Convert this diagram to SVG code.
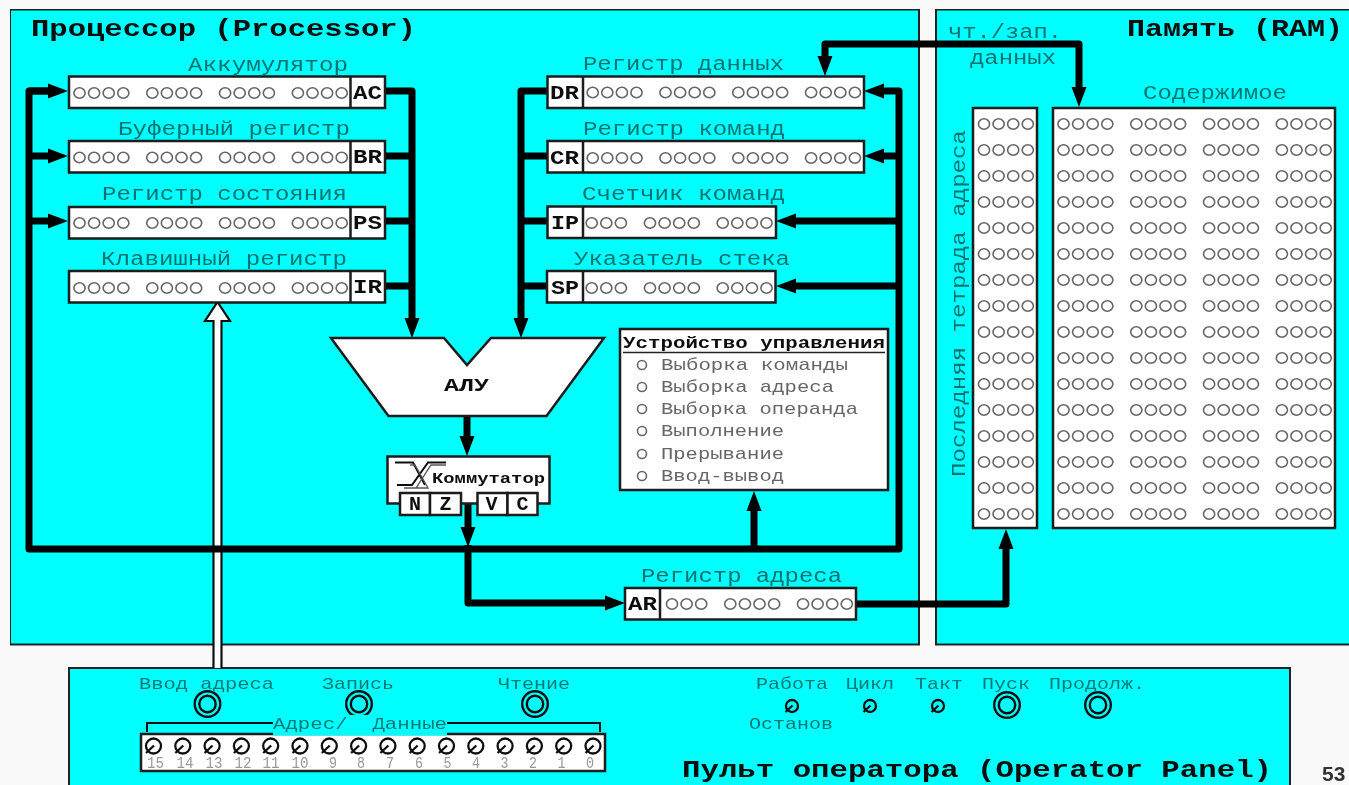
<svg xmlns="http://www.w3.org/2000/svg" width="1349" height="785" viewBox="0 0 1349 785">
<style>
text{font-family:"Liberation Mono","Courier New",monospace;white-space:pre}
.frame{fill:#00ffff;stroke:#222;stroke-width:2}
.box{fill:#fff;stroke:#1a1a1a;stroke-width:2.5}
.div{stroke:#1a1a1a;stroke-width:2.5;fill:none}
.dot{fill:none;stroke:#666;stroke-width:1.6}
.title{font-size:24px;font-weight:bold;fill:#0a0a0a}
.lab{font-size:20px;fill:#007272}
.pl{font-size:17px;fill:#007878}
.key{font-size:20px;font-weight:bold;fill:#111}
.flag{font-size:20px;font-weight:bold;fill:#111;text-anchor:middle}
.item{font-size:17px;fill:#666}
.num{font-size:17px;fill:#999;text-anchor:middle}
.wire{fill:none;stroke:#000;stroke-width:7;stroke-linejoin:round}
.btn{fill:none;stroke:#111;stroke-width:2.4}
.tog{fill:none;stroke:#111;stroke-width:2.3}
</style>
<defs>
<filter id="soft" x="0" y="0" width="100%" height="100%"><feGaussianBlur stdDeviation="0.45"/></filter>
<marker id="head" markerUnits="userSpaceOnUse" markerWidth="22" markerHeight="16" refX="0" refY="8" orient="auto"><path d="M0,0.500 L20,8 L0,15.500 Z" fill="#000"/></marker>
<g id="c3"><ellipse class="dot" cx="0" cy="0" rx="5.600" ry="5.200"/><ellipse class="dot" cx="14.600" cy="0" rx="5.600" ry="5.200"/><ellipse class="dot" cx="29.200" cy="0" rx="5.600" ry="5.200"/></g>
<g id="c4"><use href="#c3"/><ellipse class="dot" cx="43.800" cy="0" rx="5.600" ry="5.200"/></g>
<g id="r4"><use href="#c4"/><use href="#c4" x="72.800"/><use href="#c4" x="145.600"/><use href="#c4" x="218.400"/></g>
<g id="r3"><use href="#c3"/><use href="#c4" x="58.300"/><use href="#c4" x="131"/></g>
<g id="btn"><circle class="btn" r="12.800"/><circle class="btn" r="8.200"/></g>
<g id="tog"><circle class="tog" r="7.500"/><path class="tog" d="M0.500,-0.500 L-7.500,7"/></g>
<g id="togs"><circle class="tog" r="6"/><path class="tog" d="M0.500,-0.500 L-6.500,6"/></g>
</defs>
<rect width="1349" height="785" fill="#f9f9f9"/>
<g filter="url(#soft)">
<g id="frames">
<rect class="frame" x="10" y="9.500" width="909" height="635"/>
<rect class="frame" x="936" y="9.500" width="420" height="635"/>
<rect class="frame" x="69" y="668" width="1221" height="130"/>
</g>
<text class="title" x="31" y="36" textLength="385" lengthAdjust="spacingAndGlyphs">Процессор (Processor)</text>
<text class="title" x="1127" y="36" textLength="216" lengthAdjust="spacingAndGlyphs">Память (RAM)</text>
<text class="title" x="682" y="777" textLength="590" lengthAdjust="spacingAndGlyphs">Пульт оператора (Operator Panel)</text>
<text x="1322" y="781" style="font-family:'Liberation Sans',Arial,sans-serif;font-size:21px;font-weight:bold;fill:#333">53</text>

<g id="connectors">
<path d="M213.500,668 V321 H205 L217.500,302 L230,321 H221.500 V668" fill="#fff" stroke="#111" stroke-width="2.200"/>
<path class="wire" d="M385,91 H412 V318" marker-end="url(#head)"/>
<path class="wire" d="M385,156 H412 M385,221 H412 M385,286 H412"/>
<path class="wire" d="M547,91 H521 V318" marker-end="url(#head)"/>
<path class="wire" d="M547,156 H521 M547,221 H521 M547,286 H521"/>
<path class="wire" d="M29,91 H48" marker-end="url(#head)"/>
<path class="wire" d="M29,156 H48" marker-end="url(#head)"/>
<path class="wire" d="M29,221 H48" marker-end="url(#head)"/>
<path class="wire" d="M48,91 H29 V549 H899 V91 H884" marker-end="url(#head)"/>
<path class="wire" d="M899,156 H884" marker-end="url(#head)"/>
<path class="wire" d="M899,221 H796" marker-end="url(#head)"/>
<path class="wire" d="M899,286 H796" marker-end="url(#head)"/>
<path class="wire" d="M467,416 V436" marker-end="url(#head)"/>
<path class="wire" d="M468,504 V527" marker-end="url(#head)"/>
<path class="wire" d="M468,545 V603 H605" marker-end="url(#head)"/>
<path class="wire" d="M754,549 V511" marker-end="url(#head)"/>
<path class="wire" d="M856,604 H1006 V549" marker-end="url(#head)"/>
<path class="wire" d="M950,44 H825 V56" marker-end="url(#head)"/>
<path class="wire" d="M950,44 H1079 V87" marker-end="url(#head)"/>
</g>

<g id="reg-ac"><rect class="box" x="69" y="76.500" width="316" height="31.500"/><path class="div" d="M350.500,76.500 V108"/><use href="#r4" x="79.500" y="93"/><text class="lab" x="188" y="71" textLength="160" lengthAdjust="spacingAndGlyphs">Аккумулятор</text><text class="key" x="353" y="99" textLength="29" lengthAdjust="spacingAndGlyphs">AC</text></g>
<g id="reg-br"><rect class="box" x="69" y="141" width="316" height="31.500"/><path class="div" d="M350.500,141 V172.500"/><use href="#r4" x="79.500" y="157.500"/><text class="lab" x="118" y="135" textLength="232" lengthAdjust="spacingAndGlyphs">Буферный регистр</text><text class="key" x="353" y="163" textLength="29" lengthAdjust="spacingAndGlyphs">BR</text></g>
<g id="reg-ps"><rect class="box" x="69" y="207" width="316" height="31.500"/><path class="div" d="M350.500,207 V238.500"/><use href="#r4" x="79.500" y="223"/><text class="lab" x="102" y="200" textLength="245" lengthAdjust="spacingAndGlyphs">Регистр состояния</text><text class="key" x="353" y="229" textLength="29" lengthAdjust="spacingAndGlyphs">PS</text></g>
<g id="reg-ir"><rect class="box" x="69" y="271" width="316" height="31.500"/><path class="div" d="M350.500,271 V302.500"/><use href="#r4" x="79.500" y="288"/><text class="lab" x="101" y="265" textLength="246" lengthAdjust="spacingAndGlyphs">Клавишный регистр</text><text class="key" x="353" y="293" textLength="29" lengthAdjust="spacingAndGlyphs">IR</text></g>

<g id="reg-dr"><rect class="box" x="547.500" y="76.500" width="316.500" height="31.500"/><path class="div" d="M583,76.500 V108"/><use href="#r4" x="592.700" y="92.500"/><text class="lab" x="583" y="70" textLength="201" lengthAdjust="spacingAndGlyphs">Регистр данных</text><text class="key" x="550" y="99" textLength="29" lengthAdjust="spacingAndGlyphs">DR</text></g>
<g id="reg-cr"><rect class="box" x="547.500" y="141" width="316.500" height="31.500"/><path class="div" d="M583,141 V172.500"/><use href="#r4" x="592.700" y="158"/><text class="lab" x="583" y="135" textLength="202" lengthAdjust="spacingAndGlyphs">Регистр команд</text><text class="key" x="550" y="164" textLength="29" lengthAdjust="spacingAndGlyphs">CR</text></g>
<g id="reg-ip"><rect class="box" x="547.500" y="206.500" width="228.500" height="31.500"/><path class="div" d="M583,206.500 V238"/><use href="#r3" x="591.700" y="223"/><text class="lab" x="582" y="200" textLength="203" lengthAdjust="spacingAndGlyphs">Счетчик команд</text><text class="key" x="551" y="229" textLength="28" lengthAdjust="spacingAndGlyphs">IP</text></g>
<g id="reg-sp"><rect class="box" x="547" y="271" width="228.500" height="31.500"/><path class="div" d="M583,271 V302.500"/><use href="#r3" x="591.700" y="288"/><text class="lab" x="574" y="265" textLength="216" lengthAdjust="spacingAndGlyphs">Указатель стека</text><text class="key" x="551" y="294" textLength="28" lengthAdjust="spacingAndGlyphs">SP</text></g>
<g id="reg-ar"><rect class="box" x="625" y="588" width="231" height="31.500"/><path class="div" d="M660,588 V619.500"/><use href="#r3" x="672" y="604"/><text class="lab" x="641" y="582" textLength="201" lengthAdjust="spacingAndGlyphs">Регистр адреса</text><text class="key" x="628" y="610" textLength="29" lengthAdjust="spacingAndGlyphs">AR</text></g>

<g id="alu"><path class="box" d="M331,338 H444 L467,365 L491,338 H604 L546.500,416 H388.500 Z"/><text x="444" y="391" textLength="45" lengthAdjust="spacingAndGlyphs" style="font-size:18px;font-weight:bold;fill:#111">АЛУ</text></g>

<g id="switch"><rect class="box" x="387.500" y="456.500" width="162" height="47"/>
<path d="M395,462.500 H413 L425,485 M397,485 H412 L428,462.500 H446" fill="none" stroke="#111" stroke-width="2"/>
<path d="M404,488 H416 L431,465 H446 M410,465 H415 L428,488 H405" fill="none" stroke="#555" stroke-width="1.300"/>
<text x="432" y="483" textLength="113" lengthAdjust="spacingAndGlyphs" style="font-size:15px;font-weight:bold;fill:#111">Коммутатор</text>
<rect class="box" x="400" y="493" width="30" height="22"/><rect class="box" x="430" y="493" width="31" height="22"/><rect class="box" x="477.500" y="493" width="30" height="22"/><rect class="box" x="507.500" y="493" width="30" height="22"/>
<text class="flag" x="415" y="510">N</text><text class="flag" x="445.500" y="510">Z</text><text class="flag" x="491.500" y="510">V</text><text class="flag" x="522.500" y="510">C</text></g>

<g id="control"><rect class="box" x="620" y="329" width="268" height="161"/>
<text x="623" y="348" textLength="262" lengthAdjust="spacingAndGlyphs" style="font-size:17px;font-weight:bold;fill:#111">Устройство управления</text>
<path d="M623,352.500 H885" stroke="#222" stroke-width="1.500"/>
<g class="dot"><circle cx="642" cy="365" r="4.500"/><circle cx="642" cy="387" r="4.500"/><circle cx="642" cy="409" r="4.500"/><circle cx="642" cy="431" r="4.500"/><circle cx="642" cy="454" r="4.500"/><circle cx="642" cy="476" r="4.500"/></g>
<text class="item" x="661" y="370" textLength="187" lengthAdjust="spacingAndGlyphs">Выборка команды</text>
<text class="item" x="661" y="392" textLength="173" lengthAdjust="spacingAndGlyphs">Выборка адреса</text>
<text class="item" x="661" y="414" textLength="197" lengthAdjust="spacingAndGlyphs">Выборка операнда</text>
<text class="item" x="661" y="436" textLength="123" lengthAdjust="spacingAndGlyphs">Выполнение</text>
<text class="item" x="661" y="459" textLength="123" lengthAdjust="spacingAndGlyphs">Прерывание</text>
<text class="item" x="661" y="481" textLength="123" lengthAdjust="spacingAndGlyphs">Ввод-вывод</text></g>

<g id="ram-labels">
<text class="lab" x="948" y="38" textLength="114" lengthAdjust="spacingAndGlyphs">чт./зап.</text>
<text class="lab" x="970" y="64" textLength="86" lengthAdjust="spacingAndGlyphs">данных</text>
<text class="lab" x="1143" y="99" textLength="144" lengthAdjust="spacingAndGlyphs">Содержимое</text>
<text class="lab" transform="translate(964.500,477) rotate(-90)" textLength="347" lengthAdjust="spacingAndGlyphs">Последняя тетрада адреса</text>
</g>
<g id="ram-address"><rect class="box" x="973" y="108" width="64" height="420"/>
<use href="#c4" x="984" y="124"/><use href="#c4" x="984" y="150"/><use href="#c4" x="984" y="176"/><use href="#c4" x="984" y="202"/><use href="#c4" x="984" y="228"/><use href="#c4" x="984" y="254"/><use href="#c4" x="984" y="280"/><use href="#c4" x="984" y="306"/><use href="#c4" x="984" y="332"/><use href="#c4" x="984" y="358"/><use href="#c4" x="984" y="384"/><use href="#c4" x="984" y="410"/><use href="#c4" x="984" y="436"/><use href="#c4" x="984" y="462"/><use href="#c4" x="984" y="488"/><use href="#c4" x="984" y="514"/></g>
<g id="ram-contents"><rect class="box" x="1053" y="108" width="282" height="420"/>
<use href="#r4" x="1063.500" y="124"/><use href="#r4" x="1063.500" y="150"/><use href="#r4" x="1063.500" y="176"/><use href="#r4" x="1063.500" y="202"/><use href="#r4" x="1063.500" y="228"/><use href="#r4" x="1063.500" y="254"/><use href="#r4" x="1063.500" y="280"/><use href="#r4" x="1063.500" y="306"/><use href="#r4" x="1063.500" y="332"/><use href="#r4" x="1063.500" y="358"/><use href="#r4" x="1063.500" y="384"/><use href="#r4" x="1063.500" y="410"/><use href="#r4" x="1063.500" y="436"/><use href="#r4" x="1063.500" y="462"/><use href="#r4" x="1063.500" y="488"/><use href="#r4" x="1063.500" y="514"/></g>

<g id="panel-buttons">
<use href="#btn" x="207.500" y="704"/><use href="#btn" x="359" y="704"/><use href="#btn" x="535" y="704"/><use href="#btn" x="1007" y="705"/><use href="#btn" x="1098" y="705"/>
<use href="#togs" x="792" y="706"/><use href="#togs" x="870" y="706"/><use href="#togs" x="938" y="706"/>
<text class="pl" x="139" y="689" textLength="135" lengthAdjust="spacingAndGlyphs">Ввод адреса</text>
<text class="pl" x="322" y="689" textLength="72" lengthAdjust="spacingAndGlyphs">Запись</text>
<text class="pl" x="498" y="689" textLength="72" lengthAdjust="spacingAndGlyphs">Чтение</text>
<text class="pl" x="756" y="689" textLength="72" lengthAdjust="spacingAndGlyphs">Работа</text>
<text class="pl" x="846" y="689" textLength="48" lengthAdjust="spacingAndGlyphs">Цикл</text>
<text class="pl" x="915" y="689" textLength="48" lengthAdjust="spacingAndGlyphs">Такт</text>
<text class="pl" x="982" y="689" textLength="48" lengthAdjust="spacingAndGlyphs">Пуск</text>
<text class="pl" x="1049" y="689" textLength="96" lengthAdjust="spacingAndGlyphs">Продолж.</text>
<text class="pl" x="749" y="729" textLength="84" lengthAdjust="spacingAndGlyphs">Останов</text>
</g>
<g id="switches"><rect class="box" x="141" y="734" width="464" height="37"/>
<path d="M147,732 V723 H273 M447,723 H600 V732" fill="none" stroke="#111" stroke-width="2"/>
<rect x="273" y="715" width="174" height="20.500" fill="#00ffff"/>
<text class="pl" x="273" y="729" textLength="174" lengthAdjust="spacingAndGlyphs">Адрес/  Данные</text>
<use href="#tog" x="153.500" y="746"/><use href="#tog" x="182.800" y="746"/><use href="#tog" x="212.100" y="746"/><use href="#tog" x="241.400" y="746"/><use href="#tog" x="270.700" y="746"/><use href="#tog" x="300" y="746"/><use href="#tog" x="329.300" y="746"/><use href="#tog" x="358.600" y="746"/><use href="#tog" x="387.900" y="746"/><use href="#tog" x="417.200" y="746"/><use href="#tog" x="446.500" y="746"/><use href="#tog" x="475.800" y="746"/><use href="#tog" x="505.100" y="746"/><use href="#tog" x="534.400" y="746"/><use href="#tog" x="563.700" y="746"/><use href="#tog" x="593" y="746"/>
<text class="num" x="155.500" y="767.500" textLength="17" lengthAdjust="spacingAndGlyphs">15</text><text class="num" x="185" y="767.500" textLength="17" lengthAdjust="spacingAndGlyphs">14</text><text class="num" x="214" y="767.500" textLength="17" lengthAdjust="spacingAndGlyphs">13</text><text class="num" x="243" y="767.500" textLength="17" lengthAdjust="spacingAndGlyphs">12</text><text class="num" x="271" y="767.500" textLength="17" lengthAdjust="spacingAndGlyphs">11</text><text class="num" x="300" y="767.500" textLength="17" lengthAdjust="spacingAndGlyphs">10</text><text class="num" x="333" y="767.500" textLength="8" lengthAdjust="spacingAndGlyphs">9</text><text class="num" x="361" y="767.500" textLength="8" lengthAdjust="spacingAndGlyphs">8</text><text class="num" x="390" y="767.500" textLength="8" lengthAdjust="spacingAndGlyphs">7</text><text class="num" x="419" y="767.500" textLength="8" lengthAdjust="spacingAndGlyphs">6</text><text class="num" x="447.500" y="767.500" textLength="8" lengthAdjust="spacingAndGlyphs">5</text><text class="num" x="476" y="767.500" textLength="8" lengthAdjust="spacingAndGlyphs">4</text><text class="num" x="504.500" y="767.500" textLength="8" lengthAdjust="spacingAndGlyphs">3</text><text class="num" x="533" y="767.500" textLength="8" lengthAdjust="spacingAndGlyphs">2</text><text class="num" x="561.500" y="767.500" textLength="8" lengthAdjust="spacingAndGlyphs">1</text><text class="num" x="590" y="767.500" textLength="8" lengthAdjust="spacingAndGlyphs">0</text></g>
</g>
</svg>
